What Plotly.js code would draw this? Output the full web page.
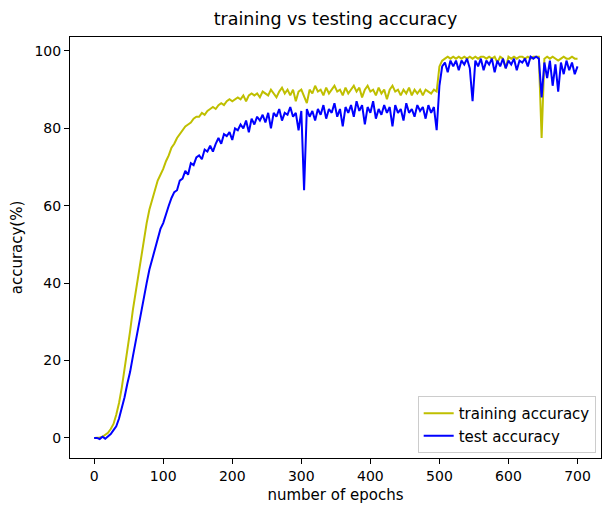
<!DOCTYPE html>
<html>
<head>
<meta charset="utf-8">
<script src="https://cdn.plot.ly/plotly-3.0.1.min.js"></script>
<style>html,body{margin:0;padding:0;background:#fff;}#chart{width:603px;height:506px;}</style>
</head>
<body>
<div id="chart"></div>
<script>
// sampled every 4 epochs
const epochStep = 4;
const trainAcc = [
0,0,0.1,0.3,0.7,1.3,2.3,3.6,6,9,
13,17.5,22,27.5,33,37.5,42,47,51.5,55.5,
59,61.5,64,66.5,68,69.5,71.5,73,75,76,
77.5,78.5,79.5,80.5,81,81.5,82.5,83,83,84,
83.5,84.5,85,85.5,85,86,86.5,86,87,87.5,
87,87.5,88,87.5,88.5,87,88.5,89,88.5,89,
88,89.5,89,88.5,90,89,88,89.5,90.5,89,
90,88.5,90,87,89.5,90,88,86.5,90,89,
91,89.5,90,88.5,90.5,89,90,91,89.5,90,
88.5,90.5,89,90,91,89.5,90.5,88,90,91,
89.5,90,88.5,90.5,89,90,87.5,90,91,89.5,
90,88.5,90,89,90.5,88.5,90,89,90,88.5,
90,89.5,89,90,89.5,96,97.5,98,98.5,98,
98.5,98,98.5,98,98.5,98,98.5,98,98.5,98,
98.5,98.5,98,98.5,98,98.5,97,98.5,98,95.5,
98.5,98,98.5,98,98.5,98.5,98,98.5,98,98.5,
98.5,98.5,77.5,98,98.5,98,98.5,98,97.5,98,
98.5,98,98,98.5,98,98
];
const testAcc = [
0,0,-0.3,0.3,-0.2,0.5,1,2,3,5,
7.5,10.5,14,17,21,25,29,32.5,37,40,
43.5,46,49,51,54,55.5,58,60,62,63.5,
64,66.5,67,69,68,71,70.5,72.5,73,72,
74.5,74,75.5,74,76,77.5,76,78.5,78,79,
77,80,79.5,81,80,82,79,82.5,81,83,
82,83.5,81.5,84,80,84,83,85,82,84,
83.5,85.5,83,84,79.5,84.5,64,85,83,84.5,
82,85,83.5,86,82.5,85,84,86.5,83,85,
80.5,85.5,84,86,83,87,84.5,86,81,85.5,
84,87,82.5,85,83.5,86,84,85.5,80.5,86,
84,85,82,86.5,84,85,83,86,84.5,85.5,
82.5,86,84,85.5,79.5,91,96,97,94.5,97.5,
96,97.5,95,97.5,96.5,98,95.5,87,97.5,96,
98,95,97.5,96.5,98,94.5,97.5,96,98,95.5,
97.5,96.5,98,95,97.5,97,98,96,98.5,98,
98.5,98,88,97,93,97.5,91,96.5,89.5,97,
94,97.5,95,97,94,96
];
const xTicks = [0,100,200,300,400,500,600,700];
const yTicks = [0,20,40,60,80,100];

const epochsTrain = trainAcc.map((_, i) => i * epochStep);
const epochsTest = testAcc.map((_, i) => i * epochStep);

const font = "DejaVu Sans, sans-serif";
const traces = [
  {x: epochsTrain, y: trainAcc, type: 'scatter', mode: 'lines', name: 'training accuracy',
   line: {color: '#bfbf00', width: 2}},
  {x: epochsTest, y: testAcc, type: 'scatter', mode: 'lines', name: 'test accuracy',
   line: {color: '#0000ff', width: 2}}
];
const axisCommon = {
  showline: true, mirror: true, linecolor: '#000', linewidth: 1,
  showgrid: false, zeroline: false, ticks: 'outside', ticklen: 5, tickwidth: 1, tickcolor: '#000',
  tickfont: {family: font, size: 14, color: '#000'}
};
const layout = {
  width: 603, height: 506,
  margin: {l: 70, r: 2, t: 37, b: 48},
  paper_bgcolor: '#fff', plot_bgcolor: '#fff',
  title: {text: 'training vs testing accuracy', font: {family: font, size: 17.5, color: '#000'},
          xref: 'paper', x: 0.5, xanchor: 'center', yref: 'container', y: 0.962, yanchor: 'middle'},
  xaxis: Object.assign({}, axisCommon, {
    range: [-35, 734], tickvals: xTicks, ticktext: xTicks.map(String),
    title: {text: 'number of epochs', font: {family: font, size: 15, color: '#000'}, standoff: 6}
  }),
  yaxis: Object.assign({}, axisCommon, {
    range: [-5.2, 103.6], tickvals: yTicks, ticktext: yTicks.map(String),
    title: {text: 'accuracy(%)', font: {family: font, size: 15, color: '#000'}, standoff: 8}
  }),
  showlegend: true,
  legend: {x: 0.99, xanchor: 'right', y: 0.012, yanchor: 'bottom',
           bgcolor: 'rgba(255,255,255,0.8)', bordercolor: '#cccccc', borderwidth: 1,
           font: {family: font, size: 15, color: '#000'}}
};
Plotly.newPlot('chart', traces, layout, {displayModeBar: false, staticPlot: true});
</script>
</body>
</html>
